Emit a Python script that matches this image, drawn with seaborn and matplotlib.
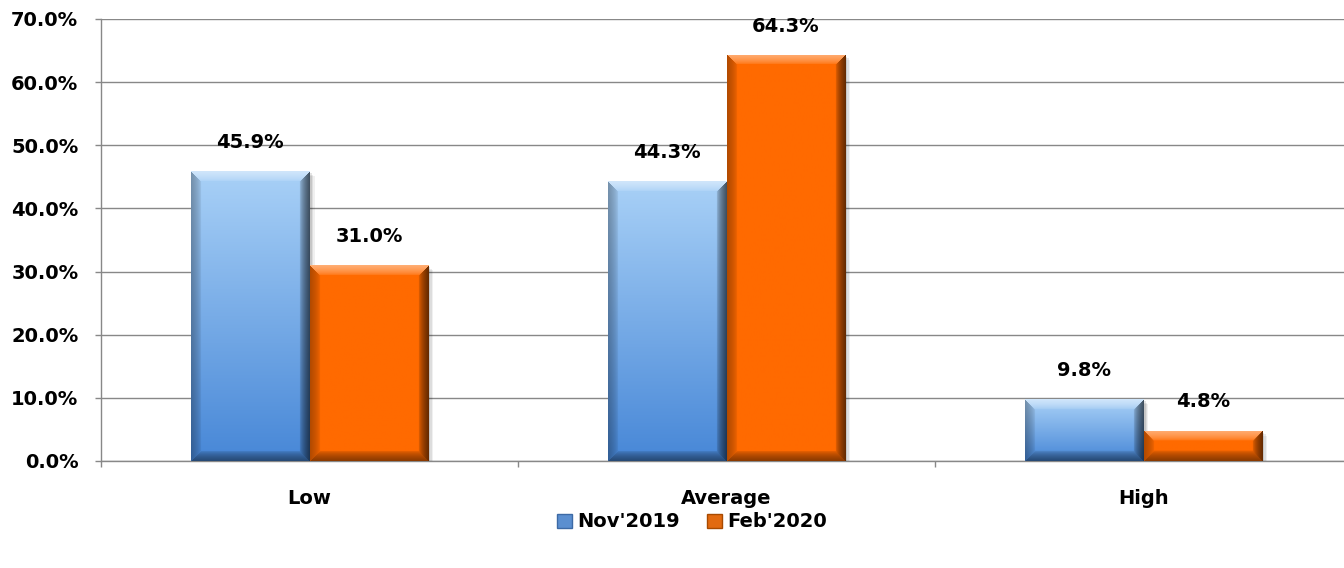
import numpy as np
import pandas as pd
import seaborn as sns
import matplotlib.pyplot as plt
from matplotlib.patches import Patch, Rectangle
from matplotlib.colors import to_rgb

# Data
categories = ["Low", "Average", "High"]
series = ["Nov'2019", "Feb'2020"]
nov_2019 = [45.9, 44.3, 9.8]
feb_2020 = [31.0, 64.3, 4.8]
y_ticks = [0, 10, 20, 30, 40, 50, 60, 70]

df = pd.DataFrame({
    "Category": categories * 2,
    "Share": nov_2019 + feb_2020,
    "Period": [series[0]] * len(categories) + [series[1]] * len(categories),
})

BLUE = "#6fa6e8"
ORANGE = "#ff6a00"
GRID = "#888888"
FS = 14

sns.set_theme(style="white")
plt.rcParams["font.family"] = ["DejaVu Sans"]
plt.rcParams["font.weight"] = "bold"

W_PX, H_PX = 1344, 568
fig = plt.figure(figsize=(W_PX / 100, H_PX / 100), dpi=100)
ax = fig.add_axes([101 / W_PX, 107 / H_PX, 1251 / W_PX, 442 / H_PX])

sns.barplot(data=df, x="Category", y="Share", hue="Period",
            palette=[BLUE, ORANGE], width=0.57, ax=ax, legend=False,
            saturation=1, zorder=3)

ax.set_xlim(-0.5, 2.5)
ax.set_ylim(0, 70)


def bevel_image(kind, w, h, b=10):
    """RGB array for a bevelled bar of w x h pixels."""
    w, h = max(int(w), 2), max(int(h), 2)
    t = np.linspace(0, 1, h)[:, None]  # 0 = top, 1 = bottom
    if kind == "blue":
        top = np.array(to_rgb("#a9d1f7"))
        bot = np.array(to_rgb("#4787d7"))
        base = top * (1 - t[..., None]) + bot * t[..., None]
        base = np.repeat(base, w, axis=1)
    else:
        base = np.ones((h, w, 3)) * np.array(to_rgb(ORANGE))
    yy, xx = np.mgrid[0:h, 0:w]
    dl, dr, dt, db = xx, w - 1 - xx, yy, h - 1 - yy
    d = np.stack([dt, dl, dr, db])
    which = d.argmin(axis=0)
    dmin = d.min(axis=0)
    strength = np.clip(1 - dmin / b, 0, 1) ** 0.6
    img = base.copy()
    white = np.ones(3)
    dark = np.zeros(3)
    s = strength[..., None]
    # top: lighter, left: slightly darker, right: darker, bottom: darker
    for idx, target, amt in [(0, white, 0.45), (1, dark, 0.3),
                             (2, dark, 0.6), (3, dark, 0.45)]:
        m = (which == idx)[..., None]
        img = np.where(m, img * (1 - amt * s) + target * amt * s, img)
    return np.clip(img, 0, 1)


px_per_x = 1251 / 3.0
px_per_y = 442 / 70.0
for container, kind in zip(ax.containers, ["blue", "orange"]):
    for bar in container:
        x0, w, h = bar.get_x(), bar.get_width(), bar.get_height()
        # soft drop shadow to the right
        for k, a in [(5, 0.06), (3.5, 0.08), (2, 0.10)]:
            ax.add_patch(Rectangle((x0 + k / px_per_x, 0), w, h - k / px_per_y,
                                   facecolor="black", alpha=a,
                                   edgecolor="none", zorder=2.5))
        img = bevel_image(kind, w * px_per_x, h * px_per_y)
        im = ax.imshow(img, extent=[x0, x0 + w, 0, h], aspect="auto",
                       zorder=4, interpolation="bilinear")
        im.set_clip_path(bar)
        bar.set_edgecolor("none")

ax.set_xlim(-0.5, 2.5)
ax.set_ylim(0, 70)

for container in ax.containers:
    ax.bar_label(container, fmt="%.1f%%", padding=14, fontsize=FS,
                 fontweight="bold", color="black", zorder=6)

# Axes styling
ax.set_yticks(y_ticks)
ax.set_yticklabels([f"{v:.1f}%" for v in y_ticks])
ax.yaxis.grid(True, color=GRID, linewidth=1.0, zorder=0)
ax.set_axisbelow(True)
ax.set_xlabel("")
ax.set_ylabel("")
for side in ["top", "right"]:
    ax.spines[side].set_visible(False)
for side in ["left", "bottom"]:
    ax.spines[side].set_color(GRID)
    ax.spines[side].set_linewidth(1.0)

ax.tick_params(axis="y", which="major", left=True, length=4.3, width=1.0,
               color=GRID, direction="out", pad=12, labelsize=FS,
               labelcolor="black")
ax.tick_params(axis="x", which="major", bottom=True, length=0, pad=20,
               labelsize=FS, labelcolor="black")
ax.set_xticks([-0.5, 0.5, 1.5, 2.5], minor=True)
ax.tick_params(axis="x", which="minor", bottom=True, length=4.3, width=1.0,
               color=GRID, direction="out")
for lbl in ax.get_xticklabels() + ax.get_yticklabels():
    lbl.set_fontweight("bold")

handles = [Patch(facecolor="#5b8fd0", edgecolor="#3d6aa5", label=series[0]),
           Patch(facecolor="#e26a10", edgecolor="#a84a00", label=series[1])]
leg = fig.legend(handles=handles, loc="center", bbox_to_anchor=(0.515, 0.081),
                 ncol=2, frameon=False, handlelength=0.75, handleheight=0.75,
                 handletextpad=0.3, columnspacing=1.4,
                 prop={"size": FS, "weight": "bold"})
for txt in leg.get_texts():
    txt.set_color("black")

fig.savefig("out.png", dpi=100)
